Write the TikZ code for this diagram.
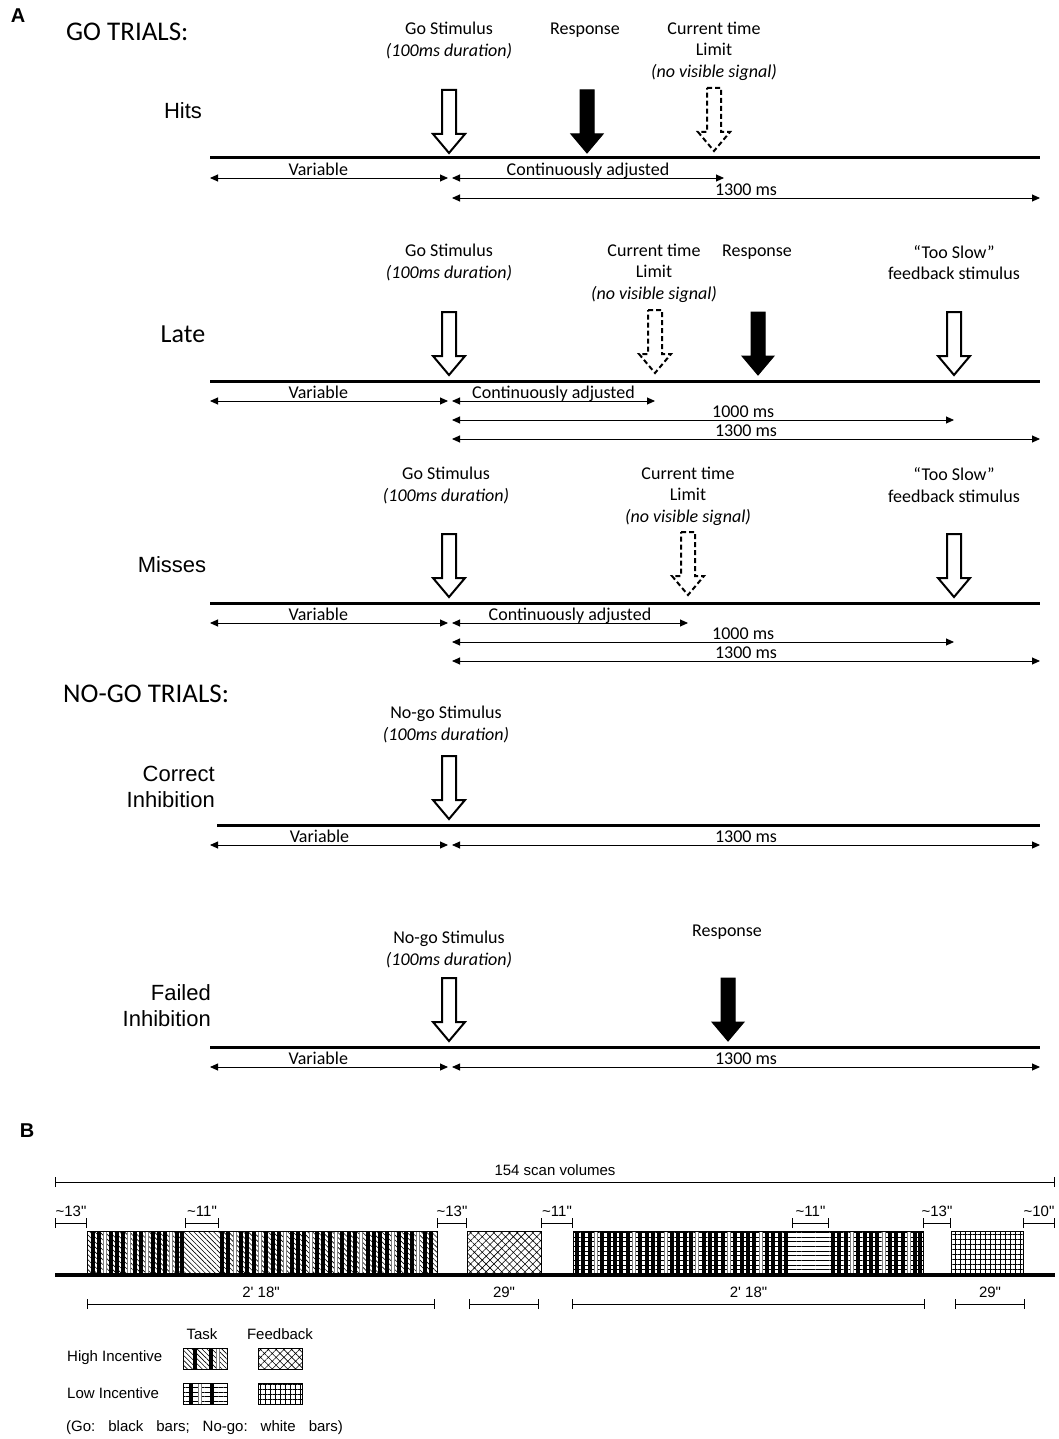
\documentclass[tikz,border=0pt]{standalone}
\usepackage{fontspec}
\setmainfont{Carlito}
\newfontfamily\arialfont{Liberation Sans}
\usetikzlibrary{arrows.meta}
\usetikzlibrary{patterns.meta}

% block arrow: #2 = x, #3 = y of the tip
\newcommand{\stimarrow}[3][stim]{%
  \draw[#1, shift={(#2,#3)}] (-7,-63) -- (7,-63) -- (7,-19) -- (16,-19) -- (0,0) -- (-16,-19) -- (-7,-19) -- cycle;}

\tikzset{
  stim/.style={line width=2pt, fill=white},
  resp/.style={line width=1pt, fill=black},
  limit/.style={line width=2pt, dash pattern=on 5pt off 3pt, fill=white},
  trial/.style={line width=3pt},
  span/.style={{Triangle[length=8pt,width=7pt]}-{Triangle[length=8pt,width=7pt]}, line width=0.9pt},
  spanlab/.style={font=\fontsize{18}{20}\selectfont, anchor=base, yshift=2.5pt, inner sep=0pt},
  lab/.style={font=\fontsize{18}{21.5}\selectfont, align=center, inner sep=0pt},
  rowlab/.style={font=\arialfont\fontsize{22}{26}\selectfont, align=right, inner sep=0pt},
  trialtitle/.style={font=\fontsize{27}{30}\selectfont, anchor=west, inner sep=0pt},
  panel/.style={font=\arialfont\bfseries\fontsize{20}{24}\selectfont, inner sep=0pt},
  btext/.style={font=\arialfont\fontsize{15}{18}\selectfont, inner sep=0pt},
  dimline/.style={{Bar[width=10pt]}-{Bar[width=10pt]}, line width=0.8pt},
  dimlab/.style={btext, anchor=base, yshift=6.5pt},
  gobar/.style={fill=black},
  nogobar/.style={fill=white, draw=gray, line width=0.6pt},
  hitask/.style={pattern={Lines[angle=-45,distance=3.5pt,line width=0.6pt]}},
  lotask/.style={pattern={Lines[angle=0,distance=4.7pt,line width=0.6pt]}},
  hifb/.style={draw, line width=0.8pt, pattern={Hatch[angle=45,distance=5.5pt,line width=0.6pt]}},
  lofb/.style={draw, line width=0.8pt, pattern={Hatch[angle=0,distance=5pt,line width=0.6pt]}}
}

\begin{document}
\begin{tikzpicture}[x=1pt,y=-1pt]
\path[use as bounding box, fill=white] (0,0) rectangle (1058,1439);

%% ---------------- A ----------------
\node[panel] (A) at (18,16) {A};
\node[trialtitle] (gotitle) at (66,32) {GO TRIALS:};

% Hits
\node[rowlab] (hits) at (183,111) {Hits};
\node[lab] (hitsgo) at (449,40.5) {Go Stimulus\\\textit{(100ms duration)}};
\node[lab] (hitsresp) at (585,30) {Response};
\node[lab] (hitslim) at (714,51) {Current time\\Limit\\\textit{(no visible signal)}};
\stimarrow{449}{153}
\stimarrow[resp]{587}{153}
\stimarrow[limit]{714}{151}
\draw[trial] (210,158) coordinate (hits0) -- (1040,158) coordinate (hits1);
\coordinate (hitsL) at (210,178);
\coordinate (hitsS) at (448,178);
\coordinate (hitsS2) at (452,178);
\coordinate (hitsC) at (724,178);
\coordinate (hitsA) at (452,198);
\coordinate (hitsE) at (1040,198);
\draw[span] (hitsL) -- node[spanlab, pos=.455] {Variable} (hitsS);
\draw[span] (hitsS2) -- node[spanlab] {Continuously adjusted} (hitsC);
\draw[span] (hitsA) -- node[spanlab] {1300 ms} (hitsE);

% Late
\node[rowlab, font=\fontsize{26}{28}\selectfont] (late) at (183,334) {Late};
\node[lab] (latego) at (449,262.5) {Go Stimulus\\\textit{(100ms duration)}};
\node[lab] (latelim) at (654,273) {Current time\\Limit\\\textit{(no visible signal)}};
\node[lab] (lateresp) at (757,252) {Response};
\node[lab] (lateslow) at (954,262.5) {“Too Slow”\\feedback stimulus};
\stimarrow{449}{375}
\stimarrow[limit]{655}{373}
\stimarrow[resp]{758}{375}
\stimarrow{954}{375}
\draw[trial] (210,381) coordinate (late0) -- (1040,381) coordinate (late1);
\coordinate (lateL) at (210,401);
\coordinate (lateS) at (448,401);
\coordinate (lateS2) at (452,401);
\coordinate (lateC) at (655,401);
\coordinate (lateA) at (452,420);
\coordinate (lateF) at (954,420);
\coordinate (lateB) at (452,439);
\coordinate (lateE) at (1040,439);
\draw[span] (lateL) -- node[spanlab, pos=.455] {Variable} (lateS);
\draw[span] (lateS2) -- node[spanlab] {Continuously adjusted} (lateC);
\draw[span] (lateA) -- node[spanlab, pos=.58] {1000 ms} (lateF);
\draw[span] (lateB) -- node[spanlab] {1300 ms} (lateE);

% Misses
\node[rowlab] (miss) at (172,565) {Misses};
\node[lab] (missgo) at (446,485.5) {Go Stimulus\\\textit{(100ms duration)}};
\node[lab] (misslim) at (688,496) {Current time\\Limit\\\textit{(no visible signal)}};
\node[lab] (missslow) at (954,485) {“Too Slow”\\feedback stimulus};
\stimarrow{449}{597}
\stimarrow[limit]{688}{595}
\stimarrow{954}{597}
\draw[trial] (210,603) coordinate (miss0) -- (1040,603) coordinate (miss1);
\coordinate (missL) at (210,623);
\coordinate (missS) at (448,623);
\coordinate (missS2) at (452,623);
\coordinate (missC) at (688,623);
\coordinate (missA) at (452,642);
\coordinate (missF) at (954,642);
\coordinate (missB) at (452,661);
\coordinate (missE) at (1040,661);
\draw[span] (missL) -- node[spanlab, pos=.455] {Variable} (missS);
\draw[span] (missS2) -- node[spanlab] {Continuously adjusted} (missC);
\draw[span] (missA) -- node[spanlab, pos=.58] {1000 ms} (missF);
\draw[span] (missB) -- node[spanlab] {1300 ms} (missE);

\node[trialtitle] (nogotitle) at (63,694) {NO-GO TRIALS:};

% Correct inhibition
\node[rowlab, anchor=east] (corr) at (215,787) {Correct\\Inhibition};
\node[lab] (corrgo) at (446,724.5) {No-go Stimulus\\\textit{(100ms duration)}};
\stimarrow{449}{819}
\draw[trial] (217,825) coordinate (corr0) -- (1040,825) coordinate (corr1);
\coordinate (corrL) at (210,845);
\coordinate (corrS) at (448,845);
\coordinate (corrS2) at (452,845);
\coordinate (corrE) at (1040,845);
\draw[span] (corrL) -- node[spanlab, pos=.46] {Variable} (corrS);
\draw[span] (corrS2) -- node[spanlab] {1300 ms} (corrE);

% Failed inhibition
\node[rowlab, anchor=east] (fail) at (211,1005.5) {Failed\\Inhibition};
\node[lab] (failgo) at (449,949.5) {No-go Stimulus\\\textit{(100ms duration)}};
\node[lab] (failresp) at (727,932) {Response};
\stimarrow{449}{1041}
\stimarrow[resp]{728}{1041}
\draw[trial] (210,1047) coordinate (fail0) -- (1040,1047) coordinate (fail1);
\coordinate (failL) at (210,1067);
\coordinate (failS) at (448,1067);
\coordinate (failS2) at (452,1067);
\coordinate (failE) at (1040,1067);
\draw[span] (failL) -- node[spanlab, pos=.455] {Variable} (failS);
\draw[span] (failS2) -- node[spanlab] {1300 ms} (failE);

%% ---------------- B ----------------
\node[panel] (B) at (27,1131) {B};
\draw[dimline] (55,1182) -- node[dimlab] {154 scan volumes} (1055,1182);

% task blocks
\fill[hitask] (87,1231) rectangle (437,1273);
\foreach \x in {93,99,111,117,123,135,141,153,159,165,177,182,
                222,228,241,247,254,266,273,279,292,298,304,317,323,330,342,349,355,368,374,380,387,399,406,412,425,431}
  \fill[gobar] (\x-2.1,1231) rectangle (\x+2.1,1273);
\foreach \x in {105,129,147,171,235,260,285,311,336,361,393,418}
  \draw[nogobar] (\x-1.5,1231) rectangle (\x+1.5,1273);
\draw[line width=0.8pt] (87,1231) rectangle (437,1273);

\fill[lotask] (573,1231) rectangle (923,1273);
\foreach \x in {577,583,590,602,609,615,621,628,640,647,653,659,672,678,685,691,704,710,716,723,735,742,748,754,767,773,780,786,
                833,839,846,858,865,871,877,890,896,903,915,920}
  \fill[gobar] (\x-2.1,1231) rectangle (\x+2.1,1273);
\foreach \x in {596,634,666,697,729,761,852,884,909}
  \draw[nogobar] (\x-1.5,1231) rectangle (\x+1.5,1273);
\draw[line width=0.8pt] (573,1231) rectangle (923,1273);

% feedback blocks
\draw[hifb] (467,1231) rectangle (541,1273);
\draw[lofb] (951,1231) rectangle (1023,1273);

\draw[line width=4pt] (55,1275) -- (1055,1275);

% durations
\foreach \a/\b/\t in {55/87/\textasciitilde13", 185/219/\textasciitilde11", 437/467/\textasciitilde13",
                      541/573/\textasciitilde11", 792/829/\textasciitilde11", 923/951/\textasciitilde13",
                      1023/1055/\textasciitilde10"}
  \draw[dimline] (\a,1223) -- node[dimlab] {\t} (\b,1223);
\foreach \a/\b/\t in {87/435/2\textquotesingle\ 18", 469/539/29", 572/925/2\textquotesingle\ 18", 955/1025/29"}
  \draw[dimline] (\a,1304) -- node[dimlab] {\t} (\b,1304);

% legend
\node[btext] (task) at (202,1334) {Task};
\node[btext] (fb) at (280,1334) {Feedback};
\node[btext, anchor=west] (high) at (67,1358) {High Incentive};
\node[btext, anchor=west] (low) at (67,1393) {Low Incentive};
\fill[hitask] (183,1348) rectangle (227,1369);
\foreach \x in {195,211} \fill[gobar] (\x-2.1,1348) rectangle (\x+2.1,1369);
\draw[nogobar] (216.5,1348) rectangle (219.5,1369);
\draw[line width=0.8pt] (183,1348) rectangle (227,1369);
\fill[lotask] (183,1383) rectangle (227,1404);
\foreach \x in {191,212} \fill[gobar] (\x-2.1,1383) rectangle (\x+2.1,1404);
\draw[nogobar] (198.5,1383) rectangle (201.5,1404);
\draw[line width=0.8pt] (183,1383) rectangle (227,1404);
\draw[hifb] (258,1348) rectangle (302,1369);
\draw[lofb] (258,1383) rectangle (302,1404);
\node[btext, anchor=west] (note) at (66,1428) {(Go:\hspace{13pt}black\hspace{13pt}bars;\hspace{13pt}No-go:\hspace{13pt}white\hspace{13pt}bars)};
\end{tikzpicture}
\end{document}
